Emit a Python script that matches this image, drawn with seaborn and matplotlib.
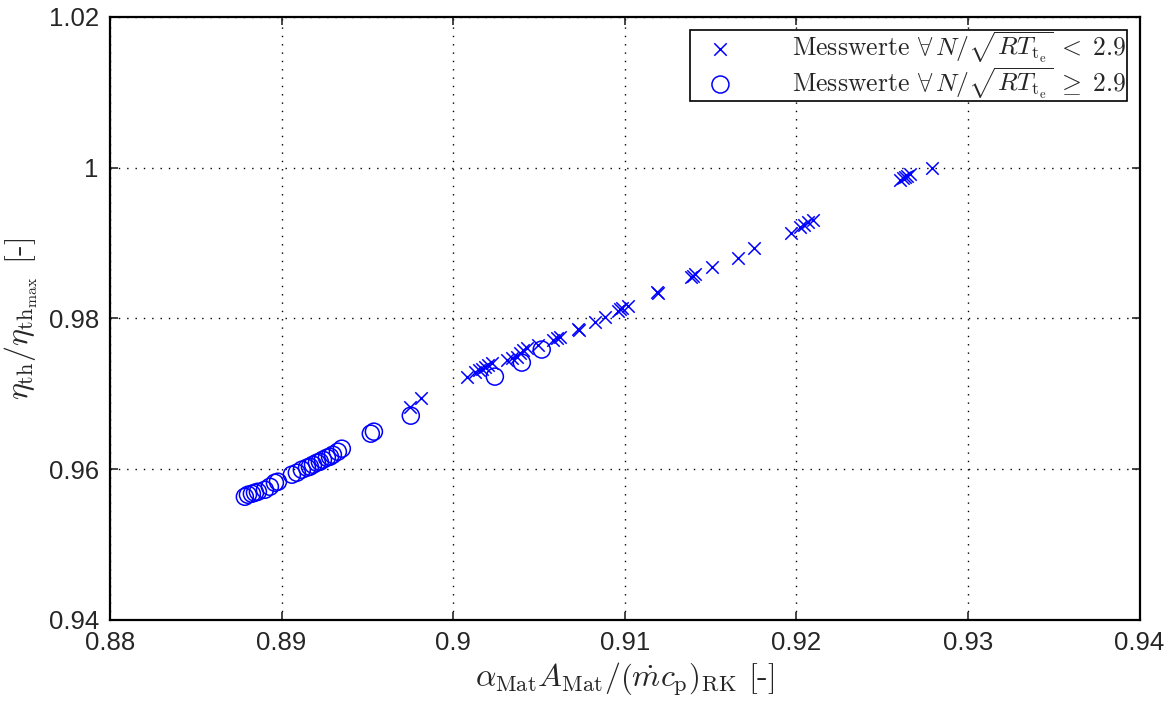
import matplotlib
matplotlib.use("Agg")
import matplotlib.pyplot as plt
import seaborn as sns
import pandas as pd

# Messwerte N/sqrt(RT_te) < 2.9 (crosses)
x_low = [0.89748, 0.89812, 0.90080, 0.90126, 0.90149, 0.90167, 0.90184, 0.90202,
         0.90225, 0.90313, 0.90342, 0.90371, 0.90388, 0.90406, 0.90429, 0.90493,
         0.90581, 0.90604, 0.90621, 0.90726, 0.90732, 0.90825, 0.90883, 0.90959,
         0.90971, 0.90982, 0.91017, 0.91186, 0.91192, 0.91384, 0.91396, 0.91408,
         0.91507, 0.91658, 0.91751, 0.91967, 0.92019, 0.92043, 0.92066, 0.92095,
         0.92602, 0.92619, 0.92631, 0.92643, 0.92660, 0.92790]
y_low = [0.96829, 0.96948, 0.97227, 0.97293, 0.97320, 0.97333, 0.97360, 0.97386,
         0.97413, 0.97453, 0.97479, 0.97493, 0.97546, 0.97586, 0.97612, 0.97652,
         0.97718, 0.97745, 0.97758, 0.97865, 0.97851, 0.97958, 0.98024, 0.98104,
         0.98130, 0.98143, 0.98170, 0.98356, 0.98343, 0.98555, 0.98568, 0.98582,
         0.98675, 0.98807, 0.98927, 0.99139, 0.99206, 0.99233, 0.99272, 0.99299,
         0.99830, 0.99857, 0.99870, 0.99883, 0.99910, 1.00000]

# Messwerte N/sqrt(RT_te) >= 2.9 (circles)
x_high = [0.88786, 0.88804, 0.88827, 0.88845, 0.88862, 0.88903, 0.88932, 0.88961,
          0.88979, 0.89060, 0.89089, 0.89118, 0.89148, 0.89165, 0.89183, 0.89206,
          0.89223, 0.89241, 0.89264, 0.89282, 0.89299, 0.89328, 0.89351, 0.89520,
          0.89538, 0.89753, 0.90243, 0.90400, 0.90516]
y_high = [0.95633, 0.95660, 0.95673, 0.95687, 0.95700, 0.95726, 0.95766, 0.95819,
          0.95833, 0.95926, 0.95952, 0.95992, 0.96019, 0.96032, 0.96058, 0.96085,
          0.96098, 0.96125, 0.96151, 0.96165, 0.96191, 0.96231, 0.96271, 0.96470,
          0.96497, 0.96709, 0.97227, 0.97413, 0.97586]

x_ticks = [0.88, 0.89, 0.90, 0.91, 0.92, 0.93, 0.94]
x_ticklabels = ["0.88", "0.89", "0.9", "0.91", "0.92", "0.93", "0.94"]
y_ticks = [0.94, 0.96, 0.98, 1.00, 1.02]
y_ticklabels = ["0.94", "0.96", "0.98", "1", "1.02"]

label_low = r"Messwerte $\forall\, N/\sqrt{RT_{\mathrm{t_e}}}\;<\;2.9$"
label_high = r"Messwerte $\forall\, N/\sqrt{RT_{\mathrm{t_e}}}\;\geq\;2.9$"

sns.set_style("white")
plt.rcParams["mathtext.fontset"] = "cm"
plt.rcParams["font.family"] = ["Liberation Sans", "DejaVu Sans"]

df_low = pd.DataFrame({"x": x_low, "y": y_low})
df_high = pd.DataFrame({"x": x_high, "y": y_high})

fig = plt.figure(figsize=(11.7, 7.02), dpi=100)
ax = fig.add_axes([0.094, 0.117, 0.880, 0.859])

blue = (0, 0, 1)
sns.scatterplot(data=df_low, x="x", y="y", marker="x", s=80, color=blue,
                linewidth=1.1, ax=ax, label=label_low, zorder=3)
sns.scatterplot(data=df_high, x="x", y="y", marker="o", s=150, facecolors="none",
                edgecolor=blue, linewidth=1.1, ax=ax, label=label_high, zorder=3)

ax.set_xlim(0.88, 0.94)
ax.set_ylim(0.94, 1.02)
ax.set_xticks(x_ticks)
ax.set_xticklabels(x_ticklabels)
ax.set_yticks(y_ticks)
ax.set_yticklabels(y_ticklabels)
ax.tick_params(direction="in", length=6, width=1.2, labelsize=18.5,
               top=True, right=True, bottom=True, left=True, pad=8)
ax.grid(True, linestyle=(0, (1, 5)), color="black", linewidth=1.0)
for sp in ax.spines.values():
    sp.set_color("black")
    sp.set_linewidth(1.6)

ax.set_xlabel(r"$\alpha_{\mathrm{Mat}}A_{\mathrm{Mat}}/\left(\dot{m}c_{\mathrm{p}}\right)_{\mathrm{RK}}$ [-]",
              fontsize=23, family="cmr10", labelpad=4)
ax.set_ylabel(r"$\eta_{\mathrm{th}}/\eta_{\mathrm{th}_{\mathrm{max}}}$ [-]",
              fontsize=23, family="cmr10", labelpad=6)

leg = ax.legend(loc="upper right", frameon=True, fancybox=False, shadow=False,
                prop={"family": "cmr10", "size": 18.5}, borderaxespad=0.5,
                handletextpad=1.6, handlelength=2.4, borderpad=0.0,
                labelspacing=0.0)
leg.get_frame().set_edgecolor("black")
leg.get_frame().set_linewidth(1.2)
leg.get_frame().set_alpha(1)

fig.savefig("out.png", dpi=100)
